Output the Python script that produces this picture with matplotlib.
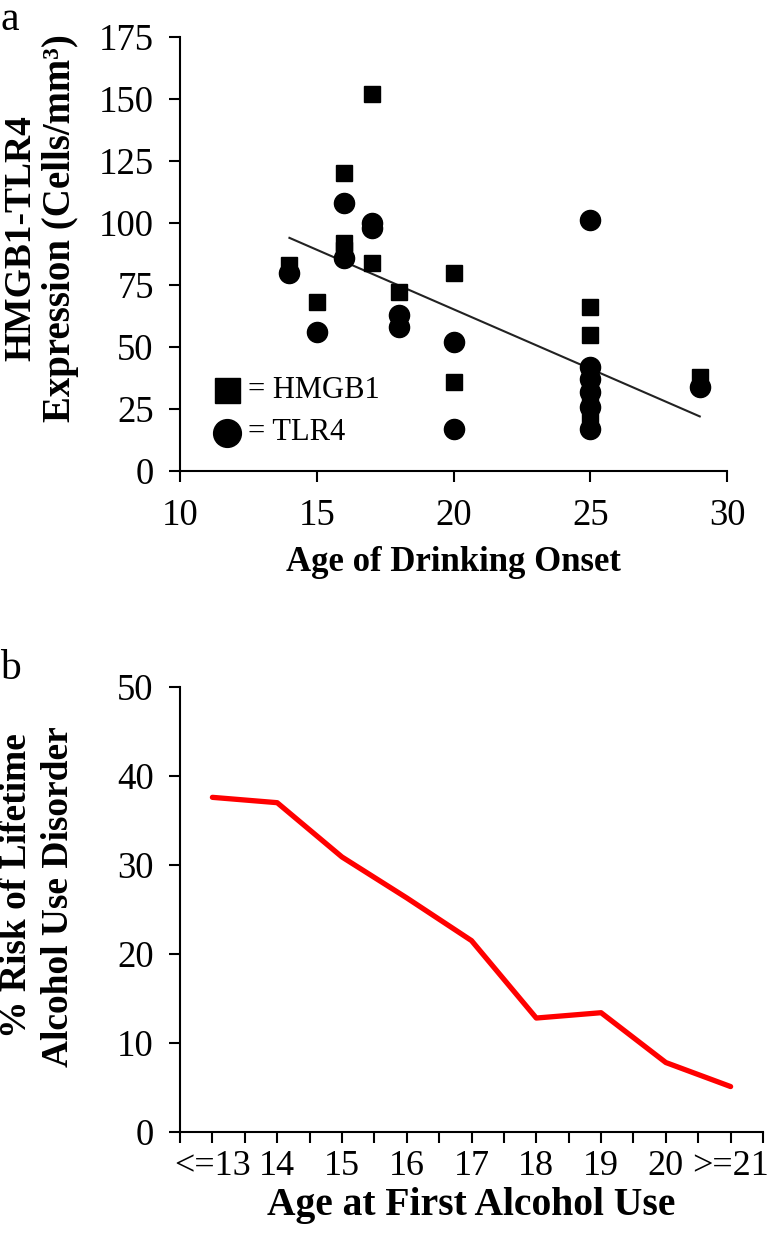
import matplotlib.pyplot as plt

plt.rcParams['font.family'] = ['Liberation Serif', 'DejaVu Serif']

# panel a - HMGB1 / TLR4 vs age of drinking onset
hmgb1_age = [14, 15, 16, 16, 16, 17, 17, 18, 20, 20, 25, 25, 25, 25, 25, 25, 29]
hmgb1_val = [83, 68, 120, 92, 89, 152, 84, 72, 80, 36, 66, 55, 40, 35, 29, 22, 38]
tlr4_age = [14, 15, 16, 16, 17, 17, 18, 18, 20, 20, 25, 25, 25, 25, 25, 25, 29]
tlr4_val = [80, 56, 108, 86, 100, 98, 63, 58, 52, 17, 101, 42, 37, 32, 26, 17, 34]
trend_x = [14, 29]
trend_y = [94, 22]

# panel b - risk of lifetime AUD
age_labels = ['<=13', '14', '15', '16', '17', '18', '19', '20', '>=21']
risk = [37.6, 37.0, 30.9, 26.3, 21.5, 12.8, 13.4, 7.8, 5.1]

fig = plt.figure(figsize=(7.67, 12.45), dpi=100)

ax1 = fig.add_axes([0.2347, 0.6217, 0.948 - 0.2347, 0.9703 - 0.6217])
ax1.plot(trend_x, trend_y, color='#222222', lw=1.5, zorder=1)
ax1.plot(tlr4_age, tlr4_val, 'o', color='black', ms=14.5, ls='none', zorder=2)
ax1.plot(hmgb1_age, hmgb1_val, 's', color='black', ms=12, ls='none', zorder=3)
ax1.set_xlim(10, 30)
ax1.set_ylim(0, 175)
ax1.set_xticks([10, 15, 20, 25, 30])
ax1.set_yticks(range(0, 176, 25))
for s in ['top', 'right']:
    ax1.spines[s].set_visible(False)
ax1.spines['left'].set_linewidth(1.5)
ax1.spines['bottom'].set_linewidth(1.5)
ax1.tick_params(axis='y', direction='out', length=8, width=1.5, labelsize=26.5, pad=11)
ax1.tick_params(axis='x', direction='out', length=8, width=1.5, labelsize=26.5, pad=12)
ax1.set_xlabel('Age of Drinking Onset', fontsize=25, fontweight='bold', labelpad=9)

# legend drawn as markers + text
ax1.plot([11.7], [32.5], 's', color='black', ms=18)
ax1.plot([11.7], [15.5], 'o', color='black', ms=20)
ax1.text(12.5, 32.5, '= HMGB1', fontsize=22, va='center')
ax1.text(12.5, 15.5, '= TLR4', fontsize=22, va='center')

fig.text(0.027, 0.809, 'HMGB1-TLR4', rotation=90, fontsize=27, fontweight='bold',
         ha='center', va='center')
fig.text(0.079, 0.817, 'Expression (Cells/mm³)', rotation=90, fontsize=28,
         fontweight='bold', ha='center', va='center')

ax2 = fig.add_axes([0.2347, 0.0908, 0.9948 - 0.2347, 0.4482 - 0.0908])
x = range(len(risk))
ax2.plot(x, risk, color='#ff0000', lw=3.8, solid_capstyle='round', solid_joinstyle='round')
ax2.set_xlim(-0.5, len(risk) - 0.5)
ax2.set_ylim(0, 50)
ax2.set_yticks(range(0, 51, 10))
ax2.set_xticks([i * 0.5 - 0.5 for i in range(2 * len(risk) + 1)], minor=True)
ax2.set_xticks(list(x))
ax2.set_xticklabels(age_labels)
for s in ['top', 'right']:
    ax2.spines[s].set_visible(False)
ax2.spines['left'].set_linewidth(1.5)
ax2.spines['bottom'].set_linewidth(1.5)
ax2.tick_params(axis='y', direction='out', length=8, width=1.5, labelsize=26.5, pad=11)
ax2.tick_params(axis='x', which='both', direction='out', length=8, width=1.5, labelsize=26, pad=5)
ax2.set_xlabel('Age at First Alcohol Use', fontsize=28.5, fontweight='bold', labelpad=3)

fig.text(0.022, 0.289, '% Risk of Lifetime', rotation=90, fontsize=27, fontweight='bold',
         ha='center', va='center')
fig.text(0.076, 0.2795, 'Alcohol Use Disorder', rotation=90, fontsize=27, fontweight='bold',
         ha='center', va='center')

fig.text(0.0, 1.0, 'a', fontsize=30, ha='left', va='top')
fig.text(0.0, 0.478, 'b', fontsize=30, ha='left', va='top')

fig.savefig('out.png', dpi=100)
